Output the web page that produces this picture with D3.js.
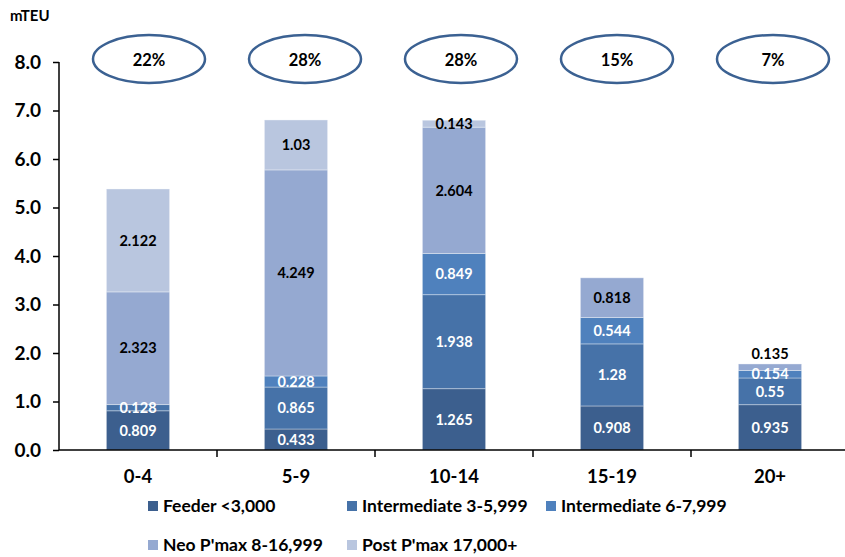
<!DOCTYPE html>
<html>
<head>
<meta charset="utf-8">
<script src="https://cdn.jsdelivr.net/npm/d3@7"></script>
<style>
  body { margin: 0; background: #fff; }
  svg { display: block; font-family: Lato, "Open Sans", sans-serif; font-weight: bold; }
</style>
</head>
<body>
<div id="chart"></div>
<script>
const categories = ["0-4", "5-9", "10-14", "15-19", "20+"];
const seriesNames = ["Feeder <3,000", "Intermediate 3-5,999", "Intermediate 6-7,999", "Neo P'max 8-16,999", "Post P'max 17,000+"];
const feeder   = [0.809, 0.433, 1.265, 0.908, 0.935];
const inter35  = [0.128, 0.865, 1.938, 1.28, 0.55];
const inter67  = [0, 0.228, 0.849, 0.544, 0.154];
const neo      = [2.323, 4.249, 2.604, 0.818, 0.135];
const post     = [2.122, 1.03, 0.143, 0, 0];
const shares   = ["22%", "28%", "28%", "15%", "7%"];
const yTicks   = [0, 1, 2, 3, 4, 5, 6, 7, 8];
const colors   = ["#3c5f8e", "#4672a8", "#4f81bd", "#95a9d1", "#b9c6df"];
const labelColors = ["#fff", "#fff", "#fff", "#000", "#000"];

const seriesValues = [feeder, inter35, inter67, neo, post];
const table = categories.map((c, i) => {
  const row = { cat: c };
  seriesNames.forEach((s, j) => row[s] = seriesValues[j][i]);
  return row;
});

const W = 845, H = 557;
const svg = d3.select("#chart").append("svg").attr("width", W).attr("height", H);

const x = d3.scaleBand().domain(categories).range([59, 849]).paddingInner(0.6).paddingOuter(0.3);
const y = d3.scaleLinear().domain([0, 8]).range([450, 62]);

const stack = d3.stack().keys(seriesNames);
const layers = stack(table);
const totals = table.map(r => d3.sum(seriesNames, s => r[s]));

// bars
const g = svg.append("g");
layers.forEach((layer, j) => {
  g.selectAll(null).data(layer.filter(d => d[1] - d[0] > 0)).enter().append("rect")
    .attr("x", d => x(d.data.cat))
    .attr("width", x.bandwidth())
    .attr("y", d => y(d[1]))
    .attr("height", d => y(d[0]) - y(d[1]))
    .attr("fill", colors[j])
    .attr("stroke", "rgba(255,255,255,0.35)")
    .attr("stroke-width", 1);
});

// labels
const outside = d => {
  const i = categories.indexOf(d.data.cat);
  return Math.abs(d[1] - totals[i]) < 1e-9 && (d[1] - d[0]) < 0.14;
};
layers.forEach((layer, j) => {
  g.selectAll(null).data(layer.filter(d => d[1] - d[0] > 0)).enter().append("text")
    .attr("x", d => x(d.data.cat) + x.bandwidth() / 2)
    .attr("y", d => outside(d) ? y(d[1]) - 10 : y((d[0] + d[1]) / 2))
    .attr("dy", "0.36em")
    .attr("text-anchor", "middle")
    .attr("font-size", 14.5)
    .attr("fill", d => outside(d) ? "#000" : labelColors[j])
    .text(d => String(+(d[1] - d[0]).toFixed(3)));
});

// y axis
const yAxis = d3.axisLeft(y).tickValues(yTicks).tickFormat(d3.format(".1f")).tickSize(6).tickPadding(12);
const ya = svg.append("g").attr("transform", "translate(59,0)").call(yAxis);
ya.select(".domain").attr("stroke", "#000").attr("stroke-width", 1.5).attr("d", "M0,62V450");
ya.selectAll(".tick line").attr("stroke", "#000").attr("stroke-width", 1.5);
ya.selectAll(".tick text").attr("font-size", 19).attr("font-family", "Lato, sans-serif").attr("font-weight", "bold").attr("fill", "#000");

// x axis
const xAxis = d3.axisBottom(x).tickSize(0).tickPadding(20);
const xa = svg.append("g").attr("transform", "translate(0,450)").call(xAxis);
xa.select(".domain").attr("stroke", "#000").attr("stroke-width", 1.5).attr("d", "M59,0H849");
xa.selectAll(".tick text").attr("font-size", 18.5).attr("font-family", "Lato, sans-serif").attr("font-weight", "bold").attr("fill", "#000");
// category separator ticks
const step = x.step();
xa.selectAll("line.sep").data(categories.slice(1)).enter().append("line")
  .attr("class", "sep")
  .attr("x1", d => x(d) - x.paddingInner() * step / 2)
  .attr("x2", d => x(d) - x.paddingInner() * step / 2)
  .attr("y1", 0).attr("y2", 7)
  .attr("stroke", "#000").attr("stroke-width", 1.5);

// unit
svg.append("text").attr("x", 10).attr("y", 21).attr("font-size", 15).attr("fill", "#000").text("mTEU");

// share ellipses
const xe = d3.scalePoint().domain(categories).range([149, 773]);
const eg = svg.append("g");
eg.selectAll("ellipse").data(categories).enter().append("ellipse")
  .attr("cx", d => xe(d)).attr("cy", 59).attr("rx", 56).attr("ry", 24)
  .attr("fill", "none").attr("stroke", "#3b6192").attr("stroke-width", 2.5);
eg.selectAll("text").data(categories).enter().append("text")
  .attr("x", d => xe(d)).attr("y", 60).attr("dy", "0.36em")
  .attr("text-anchor", "middle").attr("font-size", 16.5).attr("fill", "#000")
  .text((d, i) => shares[i]);

// legend
const lg = svg.append("g");
const legendPos = seriesNames.map((s, i) => ({ s, i, col: i < 3 ? i : i - 3, row: i < 3 ? 0 : 1 }));
const lx = d3.scaleLinear().domain([0, 1]).range([148, 347]);
const ly = d3.scaleLinear().domain([0, 1]).range([506, 545]);
const items = lg.selectAll("g").data(legendPos).enter().append("g")
  .attr("transform", d => `translate(${lx(d.col)},${ly(d.row)})`);
items.append("rect").attr("x", 0).attr("y", -5).attr("width", 10).attr("height", 10).attr("fill", d => colors[d.i]);
items.append("text").attr("x", 15).attr("dy", "0.36em").attr("font-size", 17.5).attr("fill", "#000").text(d => d.s);
</script>
</body>
</html>
